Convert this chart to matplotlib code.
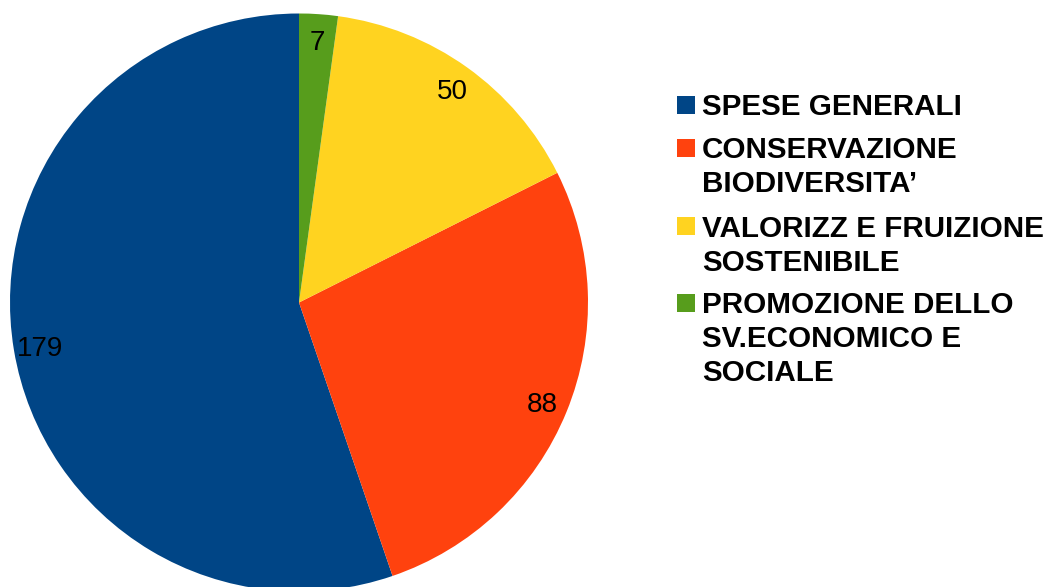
import matplotlib
matplotlib.use("Agg")
import matplotlib.pyplot as plt
from matplotlib.patches import Rectangle

plt.rcParams['font.family'] = ['Liberation Sans', 'DejaVu Sans']

# Budget allocation by area
categories = ["SPESE GENERALI", "CONSERVAZIONE\nBIODIVERSITA’",
              "VALORIZZ E FRUIZIONE\nSOSTENIBILE",
              "PROMOZIONE DELLO\nSV.ECONOMICO E\nSOCIALE"]
values = [179, 88, 50, 7]
colors = ["#004586", "#FF420E", "#FFD320", "#579D1C"]

W, H, DPI = 1051, 587, 100
fig = plt.figure(figsize=(W / DPI, H / DPI), dpi=DPI)

# Pie axes: centre at (299, 302.5) px from top-left, radius 289 px
cx, cy, r = 299.0, 302.5, 289.0
ax = fig.add_axes([(cx - r) / W, (H - cy - r) / H, 2 * r / W, 2 * r / H])
total = sum(values)
wedges, texts, autotexts = ax.pie(
    values, colors=colors, startangle=90, counterclock=True,
    radius=1.0, pctdistance=0.91,
    autopct=lambda p: f"{round(p * total / 100):d}",
    wedgeprops=dict(linewidth=0),
    textprops=dict(fontsize=20, color="black"))
for t in autotexts:
    t.set_va("center_baseline")
ax.set_xlim(-1, 1)
ax.set_ylim(-1, 1)
ax.axis("off")

# Legend drawn in pixel coordinates
lg = fig.add_axes([0, 0, 1, 1])
lg.set_xlim(0, W)
lg.set_ylim(H, 0)
lg.axis("off")
entry_baselines = [115, 158, 236.7, 313.3]
line_step = 34.0
for cat, col, base in zip(categories, colors, entry_baselines):
    lg.add_patch(Rectangle((677, base - 19.5), 18, 18, facecolor=col,
                           edgecolor="none"))
    for i, line in enumerate(cat.split("\n")):
        lg.text(702, base + i * line_step, line, fontsize=21.3,
                fontweight="bold", color="black", va="baseline", ha="left")

fig.savefig("out.png", dpi=DPI)
